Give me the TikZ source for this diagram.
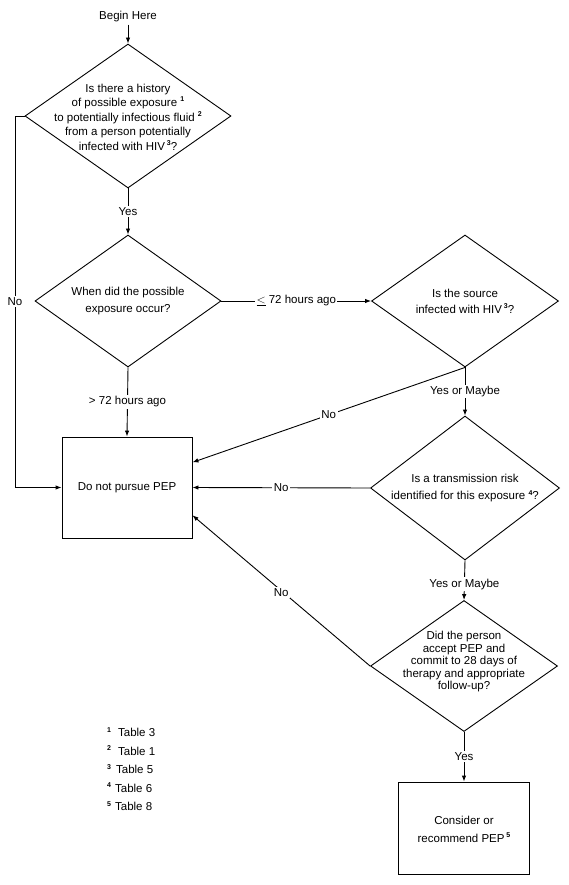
\documentclass[tikz,border=0pt]{standalone}
\usepackage{fontspec}
\setmainfont{Liberation Sans}
\usetikzlibrary{shapes.geometric,arrows.meta}
\newcommand{\fnm}[1]{\raisebox{0.8ex}{\fontsize{7}{7}\selectfont\bfseries #1}}
\begin{document}
\begin{tikzpicture}[x=1pt,y=-1pt,
  every node/.style={font=\fontsize{11.5}{14}\selectfont},
  dia/.style={draw,diamond,inner sep=0pt,line width=0.9pt},
  box/.style={draw,rectangle,line width=0.9pt,inner sep=0pt},
  txt/.style={align=center,inner sep=0pt},
  conn/.style={line width=0.9pt,-{Latex[length=6pt,width=4.5pt]}},
  lbl/.style={fill=white,inner sep=1.5pt}]
\useasboundingbox[fill=white] (0,0) rectangle (569,885);

% nodes
\node[inner sep=2pt] (begin) at (128,17) {Begin Here};

\node[dia,minimum width=206pt,minimum height=144pt] (d1) at (128,116) {};
\node[txt,font=\fontsize{11.5}{14.5}\selectfont] (t1) at (128,117)
  {Is there a history\\ of possible exposure \fnm{1}\\ to potentially infectious fluid \fnm{2}\\ from a person potentially\\ infected with HIV\,\fnm{3}?};

\node[dia,minimum width=186pt,minimum height=132pt] (d2) at (128,301) {};
\node[txt,font=\fontsize{11.5}{16.5}\selectfont] (t2) at (128,301)
  {When did the possible\\ exposure occur?};

\node[dia,minimum width=187pt,minimum height=132pt] (d3) at (465,301) {};
\node[txt,font=\fontsize{11.5}{16}\selectfont] (t3) at (465,301)
  {Is the source\\ infected with HIV\,\fnm{3}?};

\node[box,minimum width=130pt,minimum height=101pt] (box1) at (127,487.5) {};
\node[txt] (tb1) at (127,488) {Do not pursue PEP};

\node[dia,minimum width=189pt,minimum height=144pt] (d4) at (465,488) {};
\node[txt,font=\fontsize{11.5}{17}\selectfont] (t4) at (465,488.5)
  {Is a transmission risk\\ identified for this exposure \fnm{4}?};

\node[dia,minimum width=187pt,minimum height=131pt] (d5) at (464,666) {};
\node[txt,font=\fontsize{11.5}{12.5}\selectfont] (t5) at (464,662)
  {Did the person\\ accept PEP and\\ commit to 28 days of\\ therapy and appropriate\\ follow-up?};

\node[box,minimum width=131pt,minimum height=92pt] (box2) at (464,828) {};
\node[txt,font=\fontsize{11.5}{18}\selectfont] (tb2) at (464,829)
  {Consider or\\ recommend PEP\,\fnm{5}};

\node[align=left,inner sep=0pt,anchor=north west,font=\fontsize{11.5}{18.5}\selectfont] (fn) at (107,727)
  {\fnm{1}\hspace{7pt}Table 3\\ \fnm{2}\hspace{7pt}Table 1\\ \fnm{3}\hspace{5pt}Table 5\\ \fnm{4}\hspace{4pt}Table 6\\ \fnm{5}\hspace{4pt}Table 8};

% connectors
\draw[conn] (begin) -- (d1.north);
\draw[conn] (d1.south) -- node[lbl] {Yes} (d2.north);
\draw[conn] (d2.east) -- node[lbl] {$\underline{<}$ 72 hours ago} (d3.west);
\draw[conn] (d2.south) -- node[lbl] {> 72 hours ago} (box1.north);
\draw[conn] (d3.south) -- node[lbl] {Yes or Maybe} (d4.north);
\draw[conn] (d3.south) -- node[lbl,pos=0.5] {No} (box1.21);
\draw[conn] (d4.west) -- node[lbl] {No} (box1.east);
\draw[conn] (d4.south) -- node[lbl,pos=0.6] {Yes or Maybe} (d5.north);
\draw[conn] (d5.west) -- node[lbl,pos=0.5,yshift=-2pt] {No} (box1.-23);
\draw[conn] (d5.south) -- node[lbl] {Yes} (box2.north);

\coordinate (lc) at (15,116);
\draw[conn] (d1.west) -- (lc) -- (lc |- box1.west) -- (box1.west);
\path (lc) -- (lc |- box1.west) node[lbl,midway] {No};
\end{tikzpicture}
\end{document}
